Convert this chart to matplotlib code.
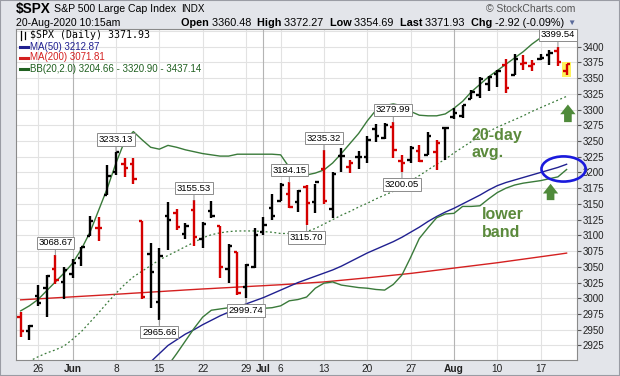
import numpy as np
import matplotlib.pyplot as plt
from matplotlib.patches import Ellipse, Rectangle
from matplotlib.lines import Line2D

plt.rcParams['font.family'] = ['Liberation Sans', 'DejaVu Sans']

# DATA - $SPX daily bars, 21-May-2020 .. 20-Aug-2020
days = ['May21', 'May22', 'May26', 'May27', 'May28', 'May29',
        'Jun1', 'Jun2', 'Jun3', 'Jun4', 'Jun5', 'Jun8', 'Jun9', 'Jun10', 'Jun11', 'Jun12',
        'Jun15', 'Jun16', 'Jun17', 'Jun18', 'Jun19', 'Jun22', 'Jun23', 'Jun24', 'Jun25', 'Jun26',
        'Jun29', 'Jun30', 'Jul1', 'Jul2', 'Jul6', 'Jul7', 'Jul8', 'Jul9', 'Jul10',
        'Jul13', 'Jul14', 'Jul15', 'Jul16', 'Jul17', 'Jul20', 'Jul21', 'Jul22', 'Jul23', 'Jul24',
        'Jul27', 'Jul28', 'Jul29', 'Jul30', 'Jul31', 'Aug3', 'Aug4', 'Aug5', 'Aug6', 'Aug7',
        'Aug10', 'Aug11', 'Aug12', 'Aug13', 'Aug14', 'Aug17', 'Aug18', 'Aug19', 'Aug20']

opens = [2969.95, 2948.05, 3004.08, 3015.65, 3046.61, 3025.17, 3038.78, 3064.78, 3098.90, 3111.56,
         3163.84, 3199.92, 3213.32, 3213.42, 3123.53, 3071.04, 2993.76, 3131.00, 3136.13, 3101.64,
         3140.29, 3094.42, 3138.70, 3114.40, 3046.60, 3073.20, 3018.59, 3050.20, 3105.92, 3143.64,
         3155.29, 3166.44, 3153.07, 3176.17, 3152.47, 3205.08, 3141.11, 3225.98, 3208.36, 3224.21,
         3224.29, 3268.52, 3254.86, 3271.64, 3218.58, 3219.84, 3234.27, 3227.22, 3231.76, 3270.45,
         3288.26, 3289.92, 3317.37, 3323.17, 3340.05, 3356.04, 3370.34, 3355.46, 3372.95, 3368.66,
         3380.86, 3387.04, 3392.51, 3360.48]
highs = [2978.50, 2956.76, 3021.72, 3036.25, 3068.67, 3049.17, 3062.18, 3081.07, 3130.94, 3128.91,
         3211.72, 3233.13, 3222.71, 3223.27, 3123.53, 3088.42, 3079.76, 3153.45, 3141.16, 3120.00,
         3155.53, 3120.92, 3154.90, 3115.01, 3086.25, 3073.73, 3053.89, 3111.51, 3128.44, 3165.81,
         3182.59, 3184.15, 3171.80, 3179.78, 3182.00, 3235.32, 3200.95, 3238.28, 3220.39, 3233.52,
         3258.61, 3277.29, 3279.32, 3279.99, 3227.26, 3241.43, 3243.72, 3264.74, 3250.92, 3272.17,
         3302.73, 3306.84, 3330.77, 3351.03, 3352.54, 3363.29, 3381.01, 3387.89, 3387.24, 3378.51,
         3387.59, 3395.06, 3399.54, 3372.27]
lows = [2938.57, 2933.59, 2988.17, 2969.75, 3023.40, 2998.61, 3031.54, 3051.64, 3098.90, 3090.41,
        3163.84, 3196.00, 3193.11, 3181.49, 2999.49, 2984.47, 2965.66, 3076.06, 3108.03, 3093.51,
        3083.11, 3079.39, 3127.12, 3032.13, 3024.01, 3004.63, 2999.74, 3047.83, 3101.17, 3124.52,
        3155.29, 3142.93, 3136.53, 3115.70, 3136.22, 3149.43, 3127.66, 3200.76, 3198.59, 3205.65,
        3215.16, 3247.77, 3253.10, 3222.66, 3200.05, 3214.25, 3216.17, 3227.22, 3204.13, 3220.26,
        3284.53, 3286.37, 3317.37, 3318.14, 3328.72, 3335.44, 3326.44, 3355.46, 3363.35, 3361.64,
        3379.22, 3370.15, 3369.66, 3354.69]
closes = [2948.51, 2955.45, 2991.77, 3036.13, 3029.73, 3044.31, 3055.73, 3080.82, 3122.87, 3112.35,
          3193.93, 3232.39, 3207.18, 3190.14, 3002.10, 3041.31, 3066.59, 3124.74, 3113.49, 3115.34,
          3097.74, 3117.86, 3131.29, 3050.33, 3083.76, 3009.05, 3053.24, 3100.29, 3115.86, 3130.01,
          3179.72, 3145.32, 3169.94, 3152.05, 3185.04, 3155.22, 3197.52, 3226.56, 3215.57, 3224.73,
          3251.84, 3257.30, 3276.02, 3235.66, 3215.63, 3239.41, 3218.44, 3258.44, 3246.22, 3271.12,
          3294.61, 3306.51, 3327.77, 3349.16, 3351.28, 3360.47, 3333.69, 3380.35, 3373.43, 3372.85,
          3381.99, 3389.78, 3374.85, 3371.93]
prev_close = 2971.61

# overlays (one value per bar)
ma200 = [2997.5, 2998.3, 2999.1, 2999.9, 3000.7, 3001.5, 3002.3, 3003.1, 3003.9, 3004.7,
         3005.5, 3006.4, 3007.2, 3008.1, 3008.9, 3009.8, 3010.6, 3011.5, 3012.3, 3013.2,
         3014.0, 3014.8, 3015.5, 3016.3, 3017.0, 3017.8, 3018.5, 3019.3, 3020.0, 3020.8,
         3021.5, 3022.4, 3023.3, 3024.2, 3025.1, 3026.0, 3027.3, 3028.6, 3029.9, 3031.2,
         3032.5, 3033.9, 3035.3, 3036.7, 3038.1, 3039.5, 3041.2, 3042.9, 3044.6, 3046.3,
         3048.0, 3049.7, 3051.4, 3053.1, 3054.8, 3056.5, 3058.4, 3060.3, 3062.2, 3064.1,
         3066.0, 3067.9, 3069.8, 3071.8]
ma50_start = 14
ma50 = [2886, 2899, 2912, 2925, 2934, 2943, 2950, 2958, 2965, 2972,
        2978, 2985, 2991, 2996, 3001, 3007, 3013, 3019, 3025, 3030,
        3035, 3040, 3045, 3051, 3058, 3065, 3072, 3078, 3084, 3090,
        3097, 3105, 3113, 3122, 3130, 3137, 3143, 3150, 3157, 3164,
        3172, 3179, 3184, 3188, 3192, 3196, 3200, 3204, 3208, 3213]
bb_mid = [2895, 2900, 2907, 2913, 2918, 2924, 2935, 2947, 2962, 2977,
          2993, 3008, 3022, 3034, 3043, 3052, 3061, 3068, 3075, 3082,
          3089, 3096, 3101, 3104, 3106, 3107, 3107, 3107, 3106, 3105,
          3103, 3103, 3104, 3106, 3111, 3118, 3125, 3132, 3138, 3145,
          3151, 3158, 3164, 3170, 3178, 3186, 3195, 3204, 3213, 3221,
          3231, 3240, 3249, 3258, 3265, 3272, 3278, 3284, 3290, 3297,
          3303, 3309, 3315, 3320.9]
bb_up = [2980, 2988, 2998, 3012, 3026, 3040, 3056, 3078, 3105, 3140,
         3175, 3215, 3250, 3265, 3252, 3240, 3237, 3243, 3240, 3236,
         3233, 3230, 3228, 3226, 3226, 3229, 3229, 3229, 3229, 3229,
         3228, 3208, 3200, 3196, 3199, 3204, 3215, 3230, 3246, 3262,
         3282, 3299, 3306, 3309, 3306, 3297, 3291, 3290, 3290, 3293,
         3302, 3313, 3328, 3340, 3352, 3362, 3372, 3382, 3392, 3404,
         3414, 3422, 3430, 3437.14]
bb_lo_start = 14
bb_lo = [2834, 2864, 2885, 2893, 2912, 2932, 2952, 2970, 2981, 2983,
         2985, 2987, 2986, 2985, 2984, 2985, 2988, 2996, 2998, 3002,
         3016, 3024, 3026, 3021, 3019, 3017, 3016, 3014, 3013, 3022,
         3037, 3065, 3095, 3112, 3128, 3134, 3135, 3146, 3146, 3147,
         3158, 3168, 3175, 3180, 3183, 3185, 3187, 3190, 3193, 3204.66]

tick_labels = ['26', 'Jun', '8', '15', '22', '29', 'Jul', '6', '13', '20', '27', 'Aug', '10', '17']
tick_days = ['May26', 'Jun1', 'Jun8', 'Jun15', 'Jun22', 'Jun29', 'Jul1', 'Jul6', 'Jul13',
             'Jul20', 'Jul27', 'Aug3', 'Aug10', 'Aug17']
months = ['Jun', 'Jul', 'Aug']

# callouts: (day, value, above?)
callouts = [('May28', 3068.67, True), ('Jun8', 3233.13, True), ('Jun19', 3155.53, True),
            ('Jun15', 2965.66, False), ('Jun29', 2999.74, False), ('Jul7', 3184.15, True),
            ('Jul9', 3115.70, False), ('Jul13', 3235.32, True), ('Jul23', 3279.99, True),
            ('Jul24', 3200.05, False), ('Aug19', 3399.54, True)]

W, H = 620, 376
fig = plt.figure(figsize=(W / 100, H / 100), dpi=100, facecolor='#e3e5ea')


def fx(px):
    return px / W


def fy(py):
    return 1 - py / H


L, R, T, B = 16, 577, 29, 360
ax = fig.add_axes([fx(L), fy(B), (R - L) / W, (B - T) / H])
ax.set_facecolor('white')

x = np.arange(len(days))
ax.set_xlim(-0.54, 64.2)
ax.set_ylim(2901.9, 3428.0)

# grid
for v in range(2925, 3426, 25):
    ax.axhline(v, color='#e2e2e2', lw=0.8, zorder=0)
for d, lab in zip(tick_days, tick_labels):
    ax.axvline(days.index(d), color='#b4b4b4' if lab in months else '#e2e2e2', lw=0.8, zorder=0)

# overlays
ax.plot(x, ma200, color='#d42020', lw=1.0, zorder=2)
ax.plot(x[ma50_start:], ma50, color='#202090', lw=1.0, zorder=2)
ax.plot(x, bb_up, color='#3a7a3a', lw=1.0, zorder=2)
ax.plot(x, bb_mid, color='#3a7a3a', lw=0.9, ls=(0, (1.5, 2)), zorder=2)
ax.plot(x[bb_lo_start:], bb_lo, color='#3a7a3a', lw=1.0, zorder=2)

# yellow marker behind the last bar
ax.add_patch(Rectangle((x[-1] - 0.55, lows[-1] - 3), 1.0, highs[-1] - lows[-1] + 6,
                       color='#fff25a', zorder=2.5, lw=0))

# OHLC bars
prev = [prev_close] + closes[:-1]
cols = ['black' if c >= p else '#d40000' for c, p in zip(closes, prev)]
ax.vlines(x, lows, highs, colors=cols, lw=1.7, zorder=3)
ax.hlines(opens, x - 0.4, x, colors=cols, lw=1.7, zorder=3)
ax.hlines(closes, x, x + 0.4, colors=cols, lw=1.7, zorder=3)

# callout boxes
for d, v, above in callouts:
    ax.annotate(f'{v:.2f}', xy=(days.index(d), v), xytext=(0, 5.5 if above else -5.5),
                textcoords='offset points', ha='center', va='bottom' if above else 'top',
                fontsize=6.8, color='black', zorder=6,
                bbox=dict(boxstyle='square,pad=0.18', fc='white', ec='#8c8c8c', lw=0.7),
                arrowprops=dict(arrowstyle='-', color='#8c8c8c', lw=0.7, shrinkA=0, shrinkB=0))

# commentary
green_txt = '#5b8a3c'
note_kw = dict(fontsize=11.5, fontweight='bold', color=green_txt, va='baseline', zorder=5)
ax.text(52.0, 3251, '20-day', **note_kw)
ax.text(52.0, 3224, 'avg.', **note_kw)
ax.text(53.2, 3125.5, 'lower', **note_kw)
ax.text(53.2, 3097, 'band', **note_kw)

arrow_col = '#4f8a3a'
for d, v0, v1 in [('Aug20', 3280, 3308), ('Aug18', 3156, 3182)]:
    ax.annotate('', xy=(days.index(d) + 0.15, v1), xytext=(days.index(d) + 0.15, v0),
                arrowprops=dict(arrowstyle='simple,head_length=0.7,head_width=1.1,tail_width=0.55',
                                mutation_scale=10, color=arrow_col, lw=0, shrinkA=0, shrinkB=0),
                zorder=5)

ax.add_patch(Ellipse((62.65, 3205.5), 5.1, 40, fill=False, ec='#1a1adc', lw=1.9, clip_on=False, zorder=7))

# axes styling
for s in ax.spines.values():
    s.set_color('#8a8a8a')
    s.set_linewidth(0.8)
ax.yaxis.tick_right()
ax.set_yticks(range(2925, 3401, 25))
ax.tick_params(axis='y', length=3, width=0.8, color='#555555', labelsize=7, pad=1, labelcolor='#222222')
ax.set_xticks([days.index(d) for d in tick_days])
ax.set_xticklabels(tick_labels)
ax.tick_params(axis='x', length=0, labelsize=7.3, pad=3, labelcolor='#222222')
for t in ax.get_xticklabels():
    if t.get_text() in months:
        t.set_fontweight('bold')

# legend block inside the plot
r = fig.canvas.get_renderer()
fig.text(fx(30), fy(35.5), '$SPX (Daily) 3371.93', family='DejaVu Sans Mono', fontsize=7.1,
         va='center', color='black', zorder=10)
fig.add_artist(Line2D([fx(21), fx(21)], [fy(31), fy(40)], color='black', lw=0.9))
fig.add_artist(Line2D([fx(25), fx(25)], [fy(32), fy(39)], color='black', lw=0.9))
leg = [('MA(50) 3212.87', '#202090', 46.5), ('MA(200) 3071.81', '#d42020', 57.5),
       ('BB(20,2.0) 3204.66 - 3320.90 - 3437.14', '#206020', 68.5)]
for s, c, py in leg:
    fig.add_artist(Line2D([fx(20), fx(28)], [fy(py), fy(py)], color=c, lw=2.2))
    fig.text(fx(30), fy(py), s, fontsize=7, color=c, va='center')


def chain(pieces, x0, py, size):
    xx = x0
    for s, w in pieces:
        t = fig.text(fx(xx), fy(py), s, fontsize=size, fontweight=w, va='center', color='black')
        xx += t.get_window_extent(r).width
    return xx


# header
fig.text(fx(16), fy(9.5), '$SPX', fontsize=9.8, fontweight='bold', va='center')
fig.text(fx(53.5), fy(9.5), 'S&P 500 Large Cap Index', fontsize=7.6, va='center')
fig.text(fx(181), fy(9.5), 'INDX', fontsize=7.1, va='center')
fig.text(fx(575), fy(9.5), '\u00a9 StockCharts.com', fontsize=7.5, va='center', ha='right', color='#555555')
fig.text(fx(16), fy(23.5), '20-Aug-2020 10:15am', fontsize=7.6, va='center')
end = chain([('Open ', 'bold'), ('3360.48  ', 'normal'), ('High ', 'bold'), ('3372.27  ', 'normal'),
             ('Low ', 'bold'), ('3354.69  ', 'normal'), ('Last ', 'bold'), ('3371.93  ', 'normal'),
             ('Chg ', 'bold'), ('-2.92 (-0.09%) ', 'normal')], 181, 23.5, 7.85)
fig.text(fx(end), fy(23.5), '\u25bc', fontsize=6, va='center', color='#5a6a9a')

fig.add_artist(Rectangle((0, 0), 1, 1, transform=fig.transFigure, fill=False, ec='#9a9ca4', lw=1.5))

fig.savefig('out.png', dpi=100, facecolor=fig.get_facecolor())
